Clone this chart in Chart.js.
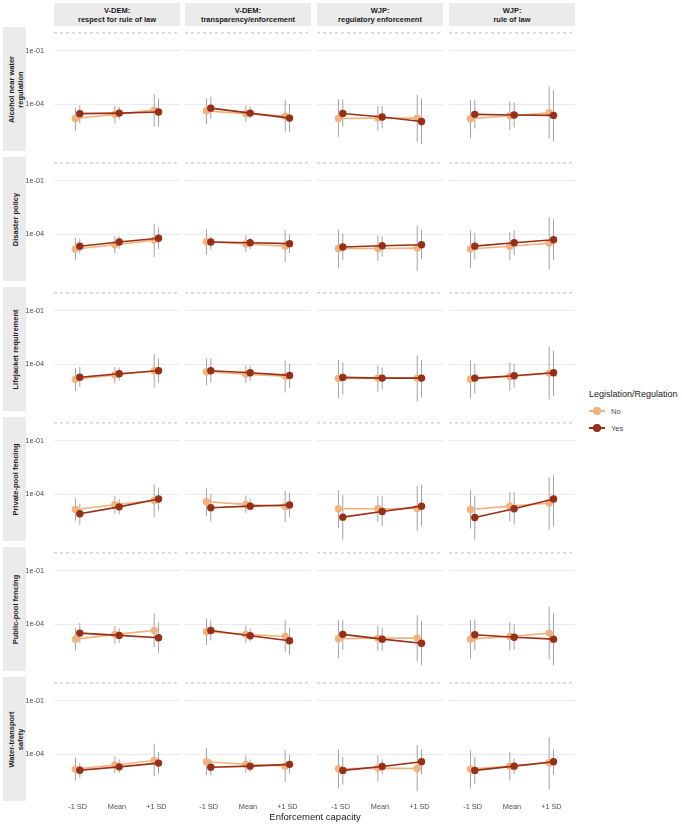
<!DOCTYPE html>
<html>
<head>
<meta charset="utf-8">
<script src="https://cdn.jsdelivr.net/npm/chart.js@4.4.1/dist/chart.umd.min.js"></script>
<style>
  body { margin: 0; background: #fff; font-family: "Liberation Sans", Arial, sans-serif; }
  #wrap { position: relative; width: 682px; height: 825px; overflow: hidden; }
  canvas { position: absolute; }
  .strip { position: absolute; background: #EBEBEB; color: #1A1A1A; font-weight: bold;
           font-size: 7.5px; line-height: 9px; text-align: center; }
  .colstrip { display: flex; align-items: center; justify-content: center; }
  .rowstrip .inner { position: absolute; display: flex; align-items: center; justify-content: center;
                     transform: rotate(-90deg); white-space: nowrap; }
  .label { position: absolute; white-space: nowrap; }
  .key { position: absolute; width: 16px; height: 10px; }
  .key .ln { position: absolute; left: 0; right: 0; top: 4.2px; height: 1.6px; }
  .key .dot { position: absolute; left: 4.3px; top: 1.3px; width: 7.4px; height: 7.4px; border-radius: 50%; }
</style>
</head>
<body>
<div id="wrap"></div>
<script>
// facet labels
const columns = [['V-DEM:', 'respect for rule of law'], ['V-DEM:', 'transparency/enforcement'],
                 ['WJP:', 'regulatory enforcement'], ['WJP:', 'rule of law']];
const rows = [['Alcohol near water', 'regulation'], ['Disaster policy'], ['Lifejacket requirement'],
              ['Private-pool fencing'], ['Public-pool fencing'], ['Water-transport', 'safety']];
const capacity = ['-1 SD', 'Mean', '+1 SD'];
const groups = ['No', 'Yes'];
const yTickValues = [1e-4, 1e-1];
const yTickLabels = ['1e-04', '1e-01'];
const refLine = 1; // dashed line at probability 1

// log10 of predicted values, [row][column][-1 SD, Mean, +1 SD]
const log10EstNo = [
  [[-4.81, -4.58, -4.34], [-4.39, -4.54, -4.68], [-4.81, -4.79, -4.79], [-4.83, -4.66, -4.49]],
  [[-4.84, -4.60, -4.34], [-4.43, -4.56, -4.69], [-4.81, -4.81, -4.79], [-4.84, -4.69, -4.51]],
  [[-4.85, -4.62, -4.38], [-4.43, -4.57, -4.68], [-4.81, -4.79, -4.79], [-4.85, -4.70, -4.51]],
  [[-4.87, -4.60, -4.36], [-4.43, -4.58, -4.70], [-4.83, -4.83, -4.81], [-4.87, -4.68, -4.51]],
  [[-4.85, -4.58, -4.36], [-4.43, -4.58, -4.70], [-4.83, -4.79, -4.79], [-4.85, -4.70, -4.51]],
  [[-4.85, -4.62, -4.36], [-4.43, -4.57, -4.68], [-4.83, -4.79, -4.81], [-4.85, -4.68, -4.49]]
];
const log10LoNo = [
  [[-5.50, -5.09, -5.28], [-5.14, -5.01, -5.56], [-5.84, -5.50, -6.12], [-5.93, -5.46, -5.93]],
  [[-5.48, -5.07, -5.29], [-5.16, -5.03, -5.58], [-5.89, -5.52, -6.08], [-5.89, -5.48, -5.97]],
  [[-5.51, -5.09, -5.32], [-5.19, -5.06, -5.60], [-5.92, -5.55, -6.11], [-5.92, -5.51, -5.98]],
  [[-5.49, -5.11, -5.30], [-5.21, -5.06, -5.57], [-5.91, -5.57, -6.09], [-5.94, -5.53, -6.00]],
  [[-5.49, -5.11, -5.30], [-5.19, -5.06, -5.57], [-5.91, -5.53, -6.09], [-5.94, -5.49, -6.00]],
  [[-5.49, -5.08, -5.26], [-5.19, -5.06, -5.57], [-5.91, -5.53, -6.09], [-5.94, -5.49, -6.00]]
];
const log10HiNo = [
  [[-4.21, -4.11, -3.44], [-3.68, -4.08, -3.77], [-3.74, -4.08, -3.49], [-3.77, -3.87, -3.02]],
  [[-4.21, -4.13, -3.42], [-3.70, -4.08, -3.79], [-3.76, -4.08, -3.51], [-3.79, -3.89, -3.04]],
  [[-4.23, -4.15, -3.43], [-3.68, -4.09, -3.81], [-3.77, -4.09, -3.51], [-3.81, -3.91, -3.02]],
  [[-4.25, -4.13, -3.45], [-3.70, -4.08, -3.83], [-3.79, -4.11, -3.55], [-3.79, -3.89, -3.04]],
  [[-4.21, -4.13, -3.42], [-3.68, -4.08, -3.79], [-3.79, -4.11, -3.51], [-3.79, -3.89, -3.04]],
  [[-4.21, -4.13, -3.42], [-3.68, -4.08, -3.79], [-3.74, -4.08, -3.49], [-3.79, -3.89, -3.04]]
];
const log10EstYes = [
  [[-4.54, -4.51, -4.45], [-4.23, -4.51, -4.79], [-4.53, -4.73, -4.98], [-4.58, -4.62, -4.64]],
  [[-4.69, -4.45, -4.24], [-4.45, -4.49, -4.54], [-4.73, -4.66, -4.60], [-4.68, -4.49, -4.32]],
  [[-4.74, -4.55, -4.38], [-4.38, -4.49, -4.64], [-4.75, -4.79, -4.79], [-4.79, -4.66, -4.49]],
  [[-5.11, -4.72, -4.28], [-4.77, -4.68, -4.62], [-5.30, -4.98, -4.68], [-5.32, -4.83, -4.28]],
  [[-4.51, -4.64, -4.77], [-4.36, -4.66, -4.94], [-4.58, -4.85, -5.08], [-4.60, -4.74, -4.85]],
  [[-4.91, -4.72, -4.51], [-4.74, -4.68, -4.58], [-4.92, -4.70, -4.43], [-4.92, -4.68, -4.43]]
];
const log10LoYes = [
  [[-5.09, -4.86, -5.28], [-4.81, -4.81, -5.56], [-5.28, -5.37, -6.25], [-5.37, -5.31, -6.12]],
  [[-5.11, -4.83, -4.83], [-4.86, -4.86, -5.07], [-5.48, -5.26, -5.41], [-5.44, -5.18, -5.44]],
  [[-5.28, -4.94, -5.06], [-5.04, -4.94, -5.32], [-5.70, -5.42, -5.89], [-5.66, -5.32, -5.79]],
  [[-5.72, -5.15, -4.92], [-5.53, -4.92, -5.30], [-6.57, -5.81, -5.81], [-6.57, -5.72, -5.81]],
  [[-5.06, -5.06, -5.62], [-4.92, -4.96, -5.72], [-5.45, -5.49, -6.32], [-5.45, -5.45, -6.32]],
  [[-5.34, -5.06, -5.11], [-5.21, -5.00, -5.11], [-5.72, -5.11, -5.15], [-5.68, -5.11, -5.15]]
];
const log10HiYes = [
  [[-4.08, -4.15, -3.68], [-3.59, -4.15, -4.00], [-3.74, -4.11, -3.68], [-3.77, -3.91, -3.21]],
  [[-4.28, -4.13, -3.64], [-4.13, -4.21, -4.02], [-3.98, -4.13, -3.76], [-3.94, -3.79, -3.16]],
  [[-4.15, -4.19, -3.68], [-3.68, -4.09, -4.00], [-3.91, -4.19, -3.77], [-4.00, -4.00, -3.25]],
  [[-4.55, -4.28, -3.64], [-3.98, -4.25, -3.92], [-4.06, -4.11, -3.49], [-4.08, -3.89, -2.92]],
  [[-3.94, -4.25, -3.92], [-3.79, -4.25, -4.21], [-3.77, -4.21, -3.83], [-3.74, -4.02, -3.38]],
  [[-4.51, -4.30, -3.89], [-4.30, -4.30, -4.06], [-4.17, -4.30, -3.74], [-4.17, -4.25, -3.74]]
];

// look
const COLORS = ['#F2B27E', '#982F17'];
const BAR_COLOR = '#A3A3A3';
const FONT = '"Liberation Sans", Arial, sans-serif';
const DODGE = 0.055;

// panel geometry
const PX = [54, 185, 317, 449];
const PW = 126, PH = 124, PY0 = 27, ROW_STEP = 130;
const Y_MIN = 2.29e-7, Y_MAX = 2.14;

const wrap = document.getElementById('wrap');

function addDiv(cls, css, html) {
  const d = document.createElement('div');
  d.className = cls;
  Object.assign(d.style, css);
  if (html !== undefined) d.innerHTML = html;
  wrap.appendChild(d);
  return d;
}

function makePanel(r, c) {
  const first = c === 0, last = r === rows.length - 1;
  const axisW = first ? 44 : 0, axisH = last ? 14 : 0;
  const cv = document.createElement('canvas');
  cv.width = PW + axisW;
  cv.height = PH + axisH;
  cv.style.left = (PX[c] - axisW) + 'px';
  cv.style.top = (PY0 + r * ROW_STEP) + 'px';
  wrap.appendChild(cv);

  const datasets = [{
    data: [{ x: 0.4, y: refLine }, { x: 3.6, y: refLine }],
    borderColor: '#BDBDBD', borderWidth: 1, borderDash: [3, 3], pointRadius: 0, order: 5
  }];
  groups.forEach((g, gi) => {
    const est = gi ? log10EstYes : log10EstNo;
    const lo = gi ? log10LoYes : log10LoNo;
    const hi = gi ? log10HiYes : log10HiNo;
    const off = gi ? DODGE : -DODGE;
    // error bars
    capacity.forEach((_, k) => {
      datasets.push({
        data: [{ x: k + 1 + off, y: Math.pow(10, lo[r][c][k]) }, { x: k + 1 + off, y: Math.pow(10, hi[r][c][k]) }],
        borderColor: BAR_COLOR, borderWidth: 1, pointRadius: 0, order: 3
      });
    });
    datasets.push({
      label: g,
      data: capacity.map((_, k) => ({ x: k + 1 + off, y: Math.pow(10, est[r][c][k]) })),
      borderColor: COLORS[gi], backgroundColor: COLORS[gi], pointBackgroundColor: COLORS[gi],
      borderWidth: 1.6, pointRadius: 3.7, pointBorderWidth: 0, order: gi ? 0 : 1
    });
  });

  // keep panels the same size whatever the axis labels need
  const noPad = s => { s.paddingTop = 0; s.paddingBottom = 0; s.paddingLeft = 0; s.paddingRight = 0; };

  new Chart(cv, {
    type: 'line',
    data: { datasets },
    options: {
      responsive: false, animation: false, events: [],
      layout: { padding: 0, autoPadding: false },
      plugins: { legend: { display: false }, tooltip: { enabled: false } },
      scales: {
        x: {
          type: 'linear', min: 0.4, max: 3.6, display: last,
          grid: { display: false, drawTicks: false }, border: { display: false },
          afterBuildTicks: s => { s.ticks = capacity.map((_, k) => ({ value: k + 1 })); },
          afterFit: s => { s.height = axisH; noPad(s); },
          ticks: { padding: 2, color: '#4D4D4D', autoSkip: false, maxRotation: 0,
                   font: { size: 7.3, family: FONT }, callback: (v, i) => capacity[i] }
        },
        y: {
          type: 'logarithmic', min: Y_MIN, max: Y_MAX,
          grid: { color: '#EBEBEB', lineWidth: 1, drawTicks: false }, border: { display: false },
          afterBuildTicks: s => { s.ticks = yTickValues.map(v => ({ value: v })); },
          afterFit: s => { s.width = axisW; noPad(s); },
          ticks: { display: first, padding: 10, color: '#4D4D4D',
                   font: { size: 7.3, family: FONT }, callback: (v, i) => yTickLabels[i] }
        }
      }
    }
  });
}

// column strips
columns.forEach((lab, c) => {
  addDiv('strip colstrip', { left: PX[c] + 'px', top: '3px', width: PW + 'px', height: '23px' },
         '<div>' + lab.join('<br>') + '</div>');
});

// row strips
rows.forEach((lab, r) => {
  const s = addDiv('strip rowstrip', { left: '3px', top: (PY0 + r * ROW_STEP) + 'px', width: '23px', height: PH + 'px' });
  const inner = document.createElement('div');
  inner.className = 'inner';
  Object.assign(inner.style, { width: PH + 'px', height: '23px', left: ((23 - PH) / 2) + 'px', top: ((PH - 23) / 2) + 'px' });
  inner.innerHTML = '<div>' + lab.join('<br>') + '</div>';
  s.appendChild(inner);
});

for (let r = 0; r < rows.length; r++) {
  for (let c = 0; c < columns.length; c++) makePanel(r, c);
}

// axis title
addDiv('label', { left: '215px', width: '200px', textAlign: 'center', top: '811px', fontSize: '9.5px', color: '#1A1A1A' },
       'Enforcement capacity');

// legend
addDiv('label', { left: '589px', top: '389px', fontSize: '9px', color: '#1A1A1A' }, 'Legislation/Regulation');
groups.forEach((g, gi) => {
  const y = 406 + gi * 17;
  addDiv('key', { left: '589px', top: y + 'px' },
         '<div class="ln" style="background:' + COLORS[gi] + '"></div><div class="dot" style="background:' + COLORS[gi] + '"></div>');
  addDiv('label', { left: '611px', top: (y + 0.5) + 'px', fontSize: '7.5px', color: '#4D4D4D' }, g);
});
</script>
</body>
</html>
